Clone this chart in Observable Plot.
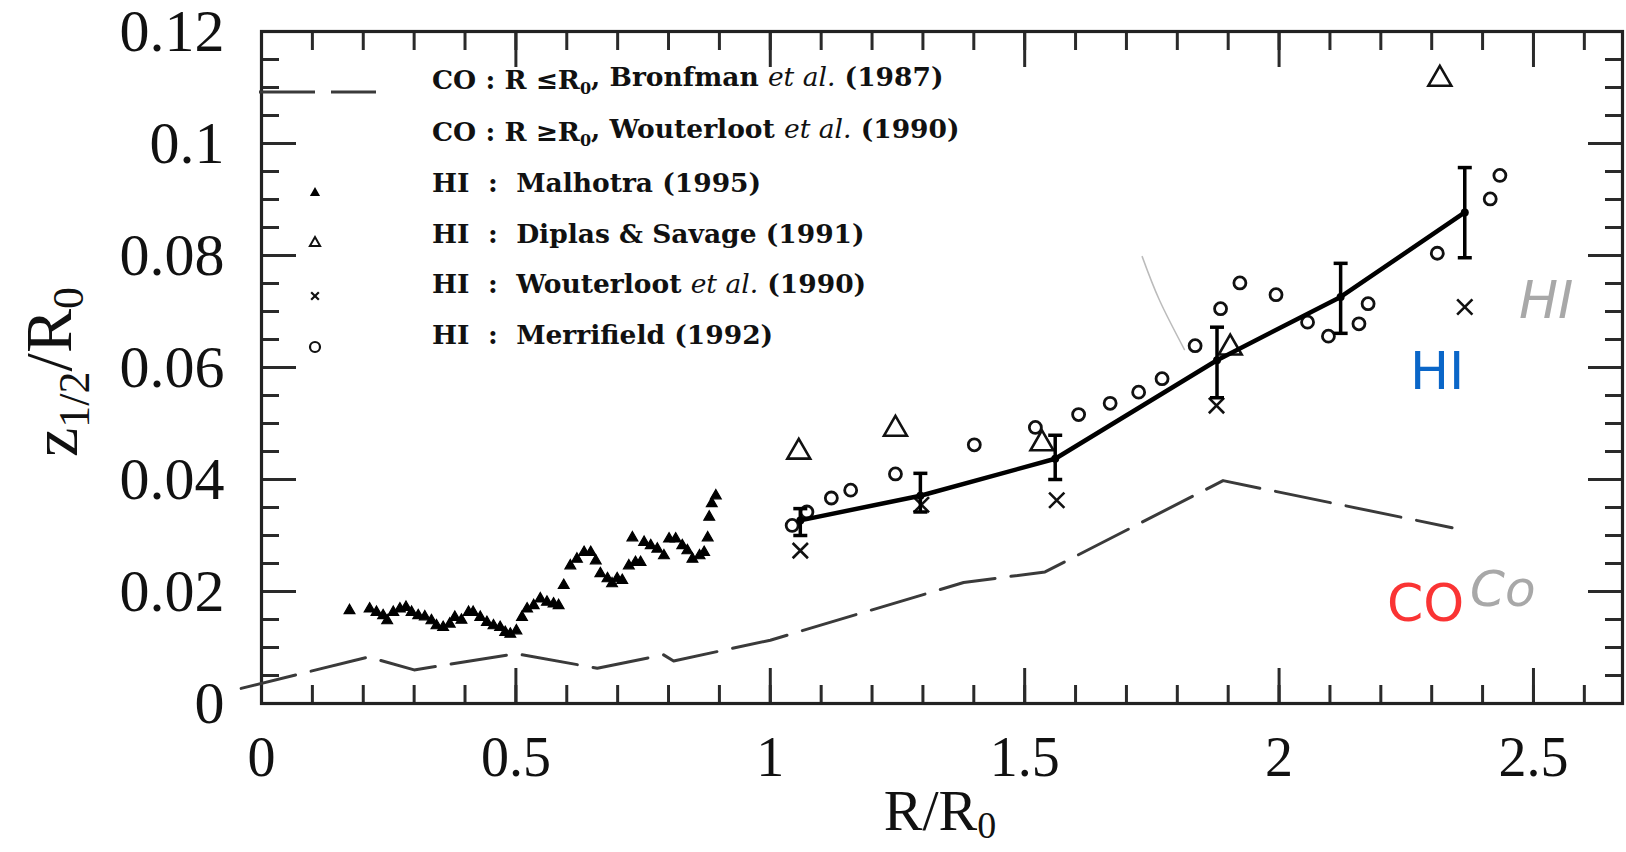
<!DOCTYPE html>
<html><head><meta charset="utf-8">
<script src="https://cdn.jsdelivr.net/npm/d3@7"></script>
<script src="https://cdn.jsdelivr.net/npm/@observablehq/plot@0.6"></script>
<style>
html,body{margin:0;padding:0;background:#fff;}
#chart{position:relative;width:1626px;height:852px;overflow:hidden;}
</style></head><body><div id="chart"></div>
<script>
// ---------- data ----------
const xMajorTicks = [0, 0.5, 1, 1.5, 2, 2.5];
const xTickLabels = ["0", "0.5", "1", "1.5", "2", "2.5"];
const yMajorTicks = [0, 0.02, 0.04, 0.06, 0.08, 0.1, 0.12];
const yTickLabels = ["0", "0.02", "0.04", "0.06", "0.08", "0.1", "0.12"];

// CO: R <= R0, Bronfman et al. (1987)
const coBronfmanR = [-0.04, 0.21, 0.30, 0.50, 0.66, 0.79, 0.81, 1.0];
const coBronfmanZ = [0.0027, 0.0083, 0.0060, 0.0089, 0.0063, 0.0087, 0.0076, 0.0113];
// CO: R >= R0, Wouterloot et al. (1990)
const coWouterlootR = [1.0, 1.38, 1.54, 1.89, 2.34];
const coWouterlootZ = [0.0113, 0.0216, 0.0235, 0.0398, 0.0314];

// HI: Malhotra (1995)
const malhotraR = [0.173,0.2125,0.226,0.239,0.247,0.259,0.272,0.284,0.295,0.308,0.321,0.334,0.344,0.357,0.370,0.380,0.393,0.407,0.416,0.430,0.443,0.456,0.469,0.479,0.489,0.501,0.512,0.522,0.535,0.548,0.561,0.574,0.584,0.594,0.607,0.620,0.634,0.647,0.657,0.666,0.680,0.689,0.699,0.709,0.722,0.735,0.745,0.729,0.752,0.765,0.778,0.791,0.801,0.814,0.827,0.837,0.847,0.861,0.870,0.877,0.880,0.885,0.893];
const malhotraZ = [0.0166,0.0169,0.0163,0.0157,0.0148,0.0163,0.0169,0.0172,0.0163,0.0157,0.0155,0.0148,0.0139,0.0136,0.0142,0.0154,0.0149,0.0163,0.0163,0.0154,0.0145,0.0139,0.0136,0.0127,0.0124,0.0130,0.0154,0.0169,0.0175,0.0187,0.0181,0.0178,0.0175,0.0211,0.0246,0.0258,0.0270,0.0270,0.0255,0.0232,0.0223,0.0214,0.0223,0.0220,0.0246,0.0252,0.0252,0.0296,0.0288,0.0282,0.0276,0.0264,0.0294,0.0294,0.0282,0.0273,0.0258,0.0264,0.0270,0.0296,0.0333,0.0357,0.0371];

// HI: Diplas & Savage (1991)
const diplasR = [1.056, 1.246, 1.534, 1.904, 2.316];
const diplasZ = [0.0449, 0.0490, 0.0464, 0.0635, 0.1115];

// HI: Wouterloot et al. (1990)
const wouterlootR = [1.059, 1.297, 1.563, 1.877, 2.365];
const wouterlootZ = [0.0273, 0.0355, 0.0363, 0.0532, 0.0708];

// HI: Merrifield (1992)
const merrifieldR = [1.043,1.072,1.120,1.158,1.246,1.401,1.521,1.606,1.668,1.724,1.770,1.835,1.885,1.923,1.994,2.056,2.097,2.157,2.175,2.311,2.415,2.434];
const merrifieldZ = [0.0318,0.0342,0.0367,0.0381,0.0410,0.0462,0.0493,0.0516,0.0536,0.0556,0.0580,0.0639,0.0705,0.0751,0.0730,0.0681,0.0656,0.0678,0.0714,0.0804,0.0901,0.0943];

// HI mean with error bars
const meanR  = [1.059, 1.295, 1.560, 1.878, 2.121, 2.365];
const meanZ  = [0.0327, 0.0371, 0.0437, 0.0613, 0.0726, 0.0877];
const meanLo = [0.0300, 0.0342, 0.0400, 0.0546, 0.0661, 0.0796];
const meanHi = [0.0348, 0.0411, 0.0479, 0.0672, 0.0786, 0.0957];

// pencil stroke (scan annotation)
const pencilR = [1.731, 1.765, 1.814];
const pencilZ = [0.0798, 0.0720, 0.0632];

const legendLabels = [
  ["CO", "R ≤", "Bronfman ", true, " (1987)"],
  ["CO", "R ≥", "Wouterloot ", true, " (1990)"],
  ["HI", null, "Malhotra", false, " (1995)"],
  ["HI", null, "Diplas & Savage", false, " (1991)"],
  ["HI", null, "Wouterloot ", true, " (1990)"],
  ["HI", null, "Merrifield", false, " (1992)"]
];

// ---------- tables ----------
const pts = (xs, ys) => xs.map((x, i) => ({x, y: ys[i]}));
const coLine = pts(coBronfmanR, coBronfmanZ).concat(pts(coWouterlootR, coWouterlootZ).slice(1));
const malhotra = pts(malhotraR, malhotraZ);
const diplas = pts(diplasR, diplasZ);
const wouter = pts(wouterlootR, wouterlootZ);
const merri = pts(merrifieldR, merrifieldZ);
const mean = meanR.map((x, i) => ({x, y: meanZ[i], lo: meanLo[i], hi: meanHi[i]}));
const pencil = pts(pencilR, pencilZ);

const xMinorTicks = d3.range(0, 27).map(i => i / 10);
const yMinorTicks = d3.range(0, 25).map(i => i * 0.005);
const xFmt = d => xTickLabels[xMajorTicks.indexOf(d)] ?? "";
const yFmt = d => yTickLabels[yMajorTicks.indexOf(d)] ?? "";
const blank = () => "";

const capSymbol = {draw(ctx, size) { const r = Math.sqrt(size / Math.PI); ctx.moveTo(-r, 0); ctx.lineTo(r, 0); }};

const tickStyle = {stroke: "#2a2a2a", strokeWidth: 3, label: null, tickFormat: blank};

const plot = Plot.plot({
  width: 1626, height: 852,
  marginLeft: 261, marginRight: 4, marginTop: 31, marginBottom: 149,
  style: {background: "#fff", fontFamily: "'Liberation Serif', serif", color: "#111"},
  x: {domain: [0, 2.675]},
  y: {domain: [0, 0.12]},
  marks: [
    Plot.axisX({ticks: xMajorTicks, tickSize: 0, tickPadding: 33, tickFormat: xFmt, fontSize: 56, label: null}),
    Plot.axisY({ticks: yMajorTicks, tickSize: 0, tickPadding: 37, tickFormat: yFmt, fontSize: 60, label: null}),
    Plot.axisX({ticks: xMinorTicks, tickSize: -18, ...tickStyle}),
    Plot.axisX({ticks: xMajorTicks, tickSize: -35, ...tickStyle}),
    Plot.axisX({anchor: "top", ticks: xMinorTicks, tickSize: -18, ...tickStyle}),
    Plot.axisX({anchor: "top", ticks: xMajorTicks, tickSize: -35, ...tickStyle}),
    Plot.axisY({ticks: yMinorTicks, tickSize: -18, ...tickStyle}),
    Plot.axisY({ticks: yMajorTicks, tickSize: -35, ...tickStyle}),
    Plot.axisY({anchor: "right", ticks: yMinorTicks, tickSize: -18, ...tickStyle}),
    Plot.axisY({anchor: "right", ticks: yMajorTicks, tickSize: -35, ...tickStyle}),
    Plot.frame({stroke: "#222", strokeWidth: 3.2}),
    Plot.line(coLine, {x: "x", y: "y", stroke: "#3a3a3a", strokeWidth: 3, strokeDasharray: "56,16"}),
    Plot.line(pencil, {x: "x", y: "y", stroke: "#bbb", strokeWidth: 1.5, curve: "natural"}),
    Plot.dot(malhotra, {x: "x", y: "y", symbol: "triangle", r: 4, fill: "#000", stroke: "#000", strokeWidth: 1.2}),
    Plot.dot(merri, {x: "x", y: "y", symbol: "circle", r: 6, fill: "none", stroke: "#111", strokeWidth: 2.8}),
    Plot.dot(diplas, {x: "x", y: "y", symbol: "triangle", r: 8.5, fill: "none", stroke: "#111", strokeWidth: 2.6}),
    Plot.dot(wouter, {x: "x", y: "y", symbol: "times", r: 7, fill: "none", stroke: "#111", strokeWidth: 2.6}),
    Plot.line(mean, {x: "x", y: "y", stroke: "#000", strokeWidth: 4.5}),
    Plot.ruleX(mean, {x: "x", y1: "lo", y2: "hi", stroke: "#000", strokeWidth: 3.5}),
    Plot.dot(mean, {x: "x", y: "lo", symbol: capSymbol, r: 7, stroke: "#000", strokeWidth: 3.5}),
    Plot.dot(mean, {x: "x", y: "hi", symbol: capSymbol, r: 7, stroke: "#000", strokeWidth: 3.5}),
    Plot.dot(mean, {x: "x", y: "y", r: 4, fill: "#000"})
  ]
});
document.getElementById("chart").appendChild(plot);

// ---------- text overlays (labels, legend, annotations) ----------
const svg = d3.select(plot);
const serif = "'Liberation Serif', serif";

// y label z_{1/2}/R_0
const yl = svg.append("text")
  .attr("transform", "translate(77,372) rotate(-90)")
  .attr("text-anchor", "middle")
  .style("font-family", serif).style("font-size", "66px").attr("fill", "#111");
yl.append("tspan").text("z");
yl.append("tspan").attr("dy", "0.28em").style("font-size", "44px").text("1/2");
yl.append("tspan").attr("dy", "-0.28em").text("/R");
yl.append("tspan").attr("dy", "0.28em").style("font-size", "44px").text("0");

// x label R/R_0
const xl = svg.append("text")
  .attr("x", 940).attr("y", 830)
  .attr("text-anchor", "middle")
  .style("font-family", serif).style("font-size", "58px").attr("fill", "#111");
xl.append("tspan").text("R/R");
xl.append("tspan").attr("dy", "0.22em").style("font-size", "38px").text("0");

// legend
const lg = svg.append("g").attr("text-anchor", "start").style("font-family", "'DejaVu Serif', serif").style("font-weight", "bold").style("font-size", "26.5px").attr("fill", "#111");
const rowY = [89, 141, 192, 243, 293, 344];
legendLabels.forEach((row, i) => {
  const t = lg.append("text").attr("x", 432).attr("y", rowY[i]).attr("text-anchor", "start").attr("xml:space", "preserve");
  t.append("tspan").text(row[0] + (row[1] ? " : " : "  :  "));
  if (row[1]) {
    t.append("tspan").text(row[1] + "R");
    t.append("tspan").attr("dy", "0.3em").style("font-size", "16px").text("0");
    t.append("tspan").attr("dy", "-0.3em").text(", ");
  }
  t.append("tspan").text(row[2]);
  if (row[3]) t.append("tspan").style("font-style", "italic").style("font-weight", "normal").text("et al.");
  t.append("tspan").text(row[4]);
});
lg.append("line").attr("x1", 259).attr("x2", 376).attr("y1", 92).attr("y2", 92)
  .attr("stroke", "#3a3a3a").attr("stroke-width", 3).attr("stroke-dasharray", "56,16");
const sym = (type, size) => d3.symbol(type, size)();
lg.append("path").attr("transform", "translate(315,193)").attr("d", sym(d3.symbolTriangle, 45)).attr("fill", "#000");
lg.append("path").attr("transform", "translate(315,243)").attr("d", sym(d3.symbolTriangle, 45)).attr("fill", "none").attr("stroke", "#111").attr("stroke-width", 2);
lg.append("path").attr("transform", "translate(315,296)").attr("d", sym(d3.symbolTimes, 40)).attr("fill", "none").attr("stroke", "#111").attr("stroke-width", 2.2);
lg.append("circle").attr("cx", 315).attr("cy", 347).attr("r", 5).attr("fill", "none").attr("stroke", "#111").attr("stroke-width", 2.2);

// colored annotations
const ann = svg.append("g").attr("text-anchor", "start").style("font-family", "'DejaVu Sans', sans-serif");
ann.append("text").attr("x", 1410).attr("y", 389).style("font-size", "52px").attr("fill", "#0a66c8").text("HI");
ann.append("text").attr("x", 1387).attr("y", 621).style("font-size", "52px").attr("fill", "#fa3434").text("CO");
// handwritten grey notes
ann.append("text").attr("x", 1519).attr("y", 318).style("font-weight", "200").style("font-style", "italic").style("font-size", "52px")
  .attr("fill", "#a8a8a8").text("HI");
ann.append("text").attr("x", 1470).attr("y", 606).style("font-weight", "200").style("font-style", "italic").style("font-size", "50px")
  .attr("fill", "#a8a8a8").text("Co");
</script></body></html>
